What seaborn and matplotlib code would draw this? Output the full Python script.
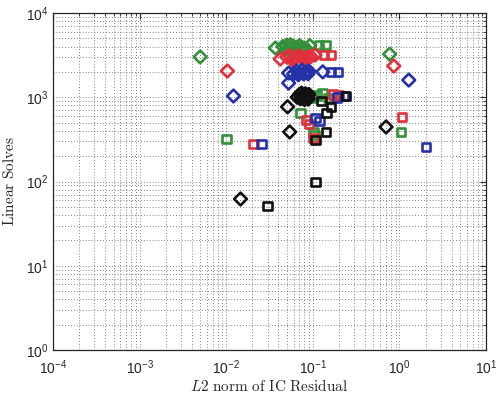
import numpy as np
import pandas as pd
import matplotlib
matplotlib.use("Agg")
import matplotlib.pyplot as plt
import seaborn as sns

sns.set_style("white")
plt.rcParams["font.family"] = ["Liberation Sans", "DejaVu Sans"]
plt.rcParams["mathtext.fontset"] = "cm"

# --- residual norm vs. number of linear solves, per solver configuration ---
green_diamond_x = [0.0050, 0.037, 0.045, 0.050, 0.055, 0.060, 0.065, 0.070, 0.075, 0.080, 0.085, 0.052, 0.062, 0.072, 0.092, 0.77]
green_diamond_y = [3010, 3840, 4000, 4150, 4200, 4000, 3900, 4100, 3900, 3800, 3700, 3650, 3600, 3700, 4100, 3250]
green_square_x = [0.117, 0.140, 0.0100, 1.04, 0.095, 0.110, 0.130, 0.150, 0.072, 0.102, 0.104]
green_square_y = [4150, 4150, 319, 386, 1000, 1050, 1100, 980, 650, 387, 357]

red_diamond_x = [0.0103, 0.042, 0.050, 0.055, 0.060, 0.065, 0.070, 0.075, 0.080, 0.088, 0.095, 0.058, 0.068, 0.078, 0.106, 0.86]
red_diamond_y = [2050, 2840, 3000, 3100, 2900, 3000, 3100, 2950, 2900, 3000, 3050, 2750, 2700, 2800, 3170, 2350]
red_square_x = [0.135, 0.161, 0.0207, 1.07, 0.083, 0.102, 0.170, 0.200, 0.090]
red_square_y = [3170, 3170, 279, 583, 537, 328, 1080, 1050, 480]

blue_diamond_x = [0.0121, 0.0525, 0.0525, 0.060, 0.065, 0.070, 0.075, 0.080, 0.085, 0.090, 0.068, 0.078, 0.088, 0.130, 1.28]
blue_diamond_y = [1035, 1940, 1475, 1900, 2050, 1950, 2100, 1950, 2000, 2050, 1850, 1900, 1900, 2000, 1600]
blue_square_x = [0.161, 0.194, 0.0255, 2.02, 0.108, 0.190, 0.230, 0.120]
blue_square_y = [2000, 2000, 279, 257, 567, 1000, 1030, 520]

black_diamond_x = [0.066, 0.070, 0.074, 0.078, 0.082, 0.086, 0.090, 0.072, 0.080, 0.088, 0.076, 0.051, 0.054, 0.0146, 0.70]
black_diamond_y = [1000, 1080, 1120, 1050, 1100, 1000, 1080, 960, 940, 950, 1000, 770, 387, 62, 444]
black_square_x = [0.030, 0.108, 0.144, 0.161, 0.141, 0.108, 0.240, 0.125]
black_square_y = [51, 99, 650, 766, 387, 311, 1035, 900]

series_colors = {"A": "#34903a", "B": "#e0303c", "C": "#2432a8", "D": "#111111"}

frames = []
for name, (dx, dy, sx, sy) in {
    "A": (green_diamond_x, green_diamond_y, green_square_x, green_square_y),
    "B": (red_diamond_x, red_diamond_y, red_square_x, red_square_y),
    "C": (blue_diamond_x, blue_diamond_y, blue_square_x, blue_square_y),
    "D": (black_diamond_x, black_diamond_y, black_square_x, black_square_y),
}.items():
    frames.append(pd.DataFrame({"res": dx, "solves": dy, "series": name, "kind": "diamond"}))
    frames.append(pd.DataFrame({"res": sx, "solves": sy, "series": name, "kind": "square"}))
df = pd.concat(frames, ignore_index=True)

fig = plt.figure(figsize=(4.96, 4.0), dpi=100)
ax = fig.add_axes([0.107, 0.125, 0.873, 0.8425])

for (name, kind), grp in df.groupby(["series", "kind"], sort=False):
    sns.scatterplot(data=grp, x="res", y="solves", ax=ax,
                    marker="D" if kind == "diamond" else "s",
                    s=42 if kind == "diamond" else 38,
                    color=series_colors[name], legend=False)

# hollow markers with thick outlines
for coll in ax.collections:
    fc = coll.get_facecolors()
    coll.set_edgecolors(fc)
    coll.set_facecolors("none")
    coll.set_linewidths(1.9)

ax.set_xscale("log")
ax.set_yscale("log")
ax.set_xlim(1e-4, 10)
ax.set_ylim(1, 1e4)
ax.grid(True, which="both", linestyle=(0, (1, 2.5)), color="0.35", linewidth=0.6)
ax.set_axisbelow(True)
ax.tick_params(which="both", direction="in", top=True, right=True, labelsize=10)
ax.tick_params(axis="x", which="major", pad=6)
ax.tick_params(which="major", length=4)
ax.tick_params(which="minor", length=2.5)
for sp in ax.spines.values():
    sp.set_color("0.15")
    sp.set_linewidth(0.9)

ax.set_xlabel(r"$L2\ \mathrm{norm\ of\ IC\ Residual}$", fontsize=11, labelpad=1)
ax.set_ylabel(r"$\mathrm{Linear\ Solves}$", fontsize=11, labelpad=6)

fig.savefig("out.png", dpi=100)
